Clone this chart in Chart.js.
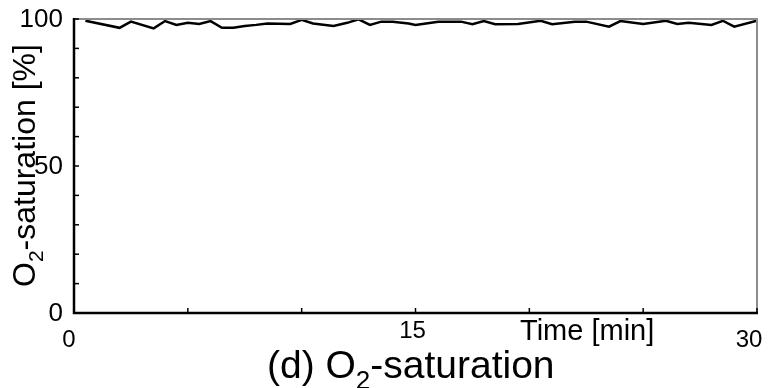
<!DOCTYPE html>
<html><head><meta charset="utf-8">
<script src="https://cdn.jsdelivr.net/npm/chart.js@4.4.1/dist/chart.umd.min.js"></script>
<style>html,body{margin:0;padding:0;background:#fff}#wrap{width:768px;height:388px}</style>
</head><body><div id="wrap"><canvas id="c" width="768" height="388"></canvas></div>
<script>
// Time samples [min] and O2-saturation values [%]
const times = [0.5,2,2.5,3.5,4,4.5,5,5.5,6,6.5,7,7.5,8,8.5,9.5,10,10.5,11.4,12,12.5,13,13.5,14,14.7,15,16,17,17.5,18,18.5,19.5,20.5,21,22,22.5,23.5,24,25,26,26.5,27,28,28.5,29,30];
const saturation = [99.4,97.0,99.1,96.8,99.3,98.0,98.7,98.3,99.3,97.0,97.0,97.6,98.0,98.5,98.3,99.7,98.5,97.6,98.7,99.9,98.0,99.1,99.1,98.5,98.0,99.1,99.1,98.2,99.3,98.2,98.3,99.4,98.2,99.1,99.1,97.4,99.3,98.3,99.4,98.3,98.7,98.0,99.4,97.4,99.4];
const xTicks = [0,5,10,15,20,25,30];
const xTickLabels = ["0","15","30"];
const xLabelValues = [0,15,30];
const yTicks = [0,10,20,30,40,50,60,70,80,90,100];
const yTickLabels = ["0","50","100"];
const yLabelValues = [0,50,100];
const xTitle = "Time [min]";
const yTitleMain = "O";
const yTitleSub = "2";
const yTitleRest = "-saturation [%]";
const titleA = "(d) O";
const titleSub = "2";
const titleB = "-saturation";

const FONT = '"Liberation Sans", Arial, sans-serif';

const decor = {
  id: 'decor',
  afterDraw(chart) {
    const ctx = chart.ctx, xs = chart.scales.x, ys = chart.scales.y;
    const L = xs.getPixelForValue(0), R = xs.getPixelForValue(30);
    const T = ys.getPixelForValue(100), B = ys.getPixelForValue(0);
    ctx.save();
    ctx.strokeStyle = '#8c8c8c'; ctx.lineWidth = 2;
    ctx.beginPath(); ctx.moveTo(L, T); ctx.lineTo(R, T); ctx.lineTo(R, B); ctx.stroke();
    ctx.strokeStyle = '#000'; ctx.lineWidth = 2.5;
    ctx.beginPath(); ctx.moveTo(L, T - 1); ctx.lineTo(L, B); ctx.lineTo(R + 1, B); ctx.stroke();
    ctx.lineWidth = 1.5;
    xTicks.forEach(v => { const px = xs.getPixelForValue(v); ctx.beginPath(); ctx.moveTo(px, B); ctx.lineTo(px, B - 5); ctx.stroke(); });
    yTicks.forEach(v => { const py = ys.getPixelForValue(v); ctx.beginPath(); ctx.moveTo(L, py); ctx.lineTo(L + 5, py); ctx.stroke(); });
    ctx.fillStyle = '#000';
    ctx.font = '26px ' + FONT; ctx.textAlign = 'right'; ctx.textBaseline = 'middle';
    yLabelValues.forEach((v, i) => ctx.fillText(yTickLabels[i], L - 11, ys.getPixelForValue(v) + 1));
    ctx.font = '24px ' + FONT; ctx.textAlign = 'center'; ctx.textBaseline = 'alphabetic';
    const xOff = [-5, -3, -8], xBase = [347, 338, 347];
    xLabelValues.forEach((v, i) => ctx.fillText(xTickLabels[i], xs.getPixelForValue(v) + xOff[i], xBase[i]));
    ctx.font = '29px ' + FONT; ctx.textAlign = 'left';
    ctx.fillText(xTitle, 520, 340);
    ctx.font = '39px ' + FONT;
    let x = 267;
    ctx.fillText(titleA, x, 378); x += ctx.measureText(titleA).width;
    ctx.font = '26px ' + FONT; ctx.fillText(titleSub, x, 389); x += ctx.measureText(titleSub).width;
    ctx.font = '39px ' + FONT; ctx.fillText(titleB, x, 378);
    ctx.translate(35, 287); ctx.rotate(-Math.PI / 2);
    ctx.font = '32px ' + FONT;
    let y = 0;
    ctx.fillText(yTitleMain, y, 0); y += ctx.measureText(yTitleMain).width;
    ctx.font = '21px ' + FONT; ctx.fillText(yTitleSub, y, 8); y += ctx.measureText(yTitleSub).width;
    ctx.font = '32px ' + FONT; ctx.fillText(yTitleRest, y, 0);
    ctx.restore();
  }
};

new Chart(document.getElementById('c'), {
  type: 'line',
  data: {
    datasets: [{
      data: times.map((t, i) => ({ x: t, y: saturation[i] })),
      borderColor: '#000', borderWidth: 2.5, pointRadius: 0, tension: 0, fill: false
    }]
  },
  options: {
    responsive: false, animation: false, devicePixelRatio: 1,
    layout: { padding: { left: 74, right: 11, top: 19, bottom: 75 } },
    plugins: { legend: { display: false }, tooltip: { enabled: false }, title: { display: false } },
    scales: {
      x: { type: 'linear', min: 0, max: 30, display: false },
      y: { type: 'linear', min: 0, max: 100, display: false }
    }
  },
  plugins: [decor]
});
</script></body></html>
